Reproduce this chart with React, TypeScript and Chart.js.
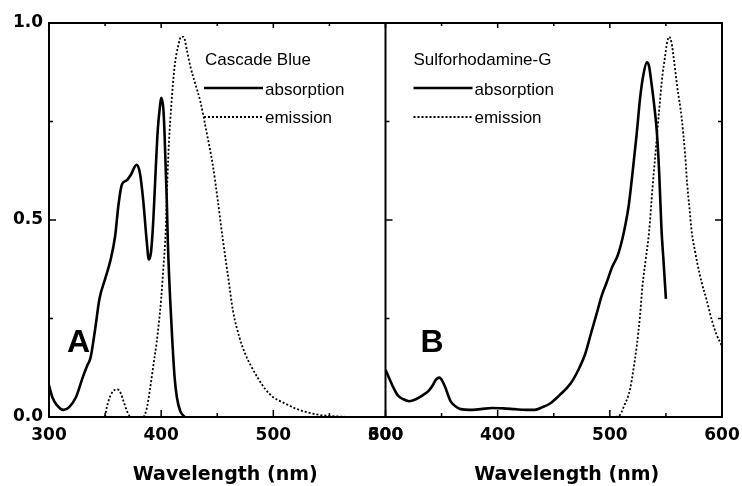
import React, { useEffect, useRef } from "react";
import { Chart, registerables } from "chart.js";

Chart.register(...registerables);

const FONT = '"Liberation Sans", Arial, Helvetica, sans-serif';
const BOLD_FONT = '"DejaVu Sans", "Liberation Sans", Arial, sans-serif';

// Panel A: Cascade Blue
const absAX = [300, 303, 307, 313, 318, 324, 330, 334, 337, 341, 345, 350, 355, 359, 362, 365, 369, 373, 378, 381, 384, 387, 389, 391, 393, 395, 397, 399, 400, 402, 403, 405, 406, 408, 410, 412, 414, 417, 421];
const absAY = [0.08, 0.05, 0.03, 0.018, 0.025, 0.05, 0.1, 0.13, 0.15, 0.22, 0.3, 0.35, 0.4, 0.46, 0.54, 0.59, 0.6, 0.615, 0.64, 0.62, 0.55, 0.45, 0.4, 0.42, 0.5, 0.62, 0.73, 0.79, 0.81, 0.78, 0.72, 0.55, 0.44, 0.3, 0.19, 0.1, 0.05, 0.015, 0];
const emAX = [350, 350.5, 353, 357, 361, 364, 367, 370, 373, 384, 387, 390, 393, 396, 398, 400, 402, 404, 405.5, 407, 409, 412, 415, 418, 420, 423, 426, 431, 435, 440, 446, 450, 455, 460, 464, 470, 475, 480, 486, 493, 500, 510, 521, 530, 542, 555, 567];
const emAY = [0, 0.01, 0.04, 0.065, 0.07, 0.06, 0.035, 0.012, 0, 0, 0.02, 0.07, 0.13, 0.19, 0.24, 0.3, 0.38, 0.47, 0.6, 0.7, 0.79, 0.89, 0.94, 0.965, 0.965, 0.93, 0.89, 0.84, 0.8, 0.73, 0.64, 0.56, 0.45, 0.35, 0.27, 0.2, 0.16, 0.13, 0.1, 0.07, 0.05, 0.035, 0.02, 0.012, 0.005, 0.002, 0];

// Panel B: Sulforhodamine-G
const absBX = [300, 303, 307, 311, 316, 321, 327, 333, 338, 342, 345, 348, 351, 354, 358, 362, 367, 375, 385, 395, 405, 415, 425, 433, 440, 447, 455, 465, 472, 478, 483, 488, 493, 497, 502, 507, 511, 514, 517, 521, 524, 527, 530, 533, 535, 537, 540, 542, 544, 546, 548, 550];
const absBY = [0.12, 0.1, 0.075, 0.055, 0.045, 0.04, 0.045, 0.055, 0.065, 0.08, 0.095, 0.1, 0.09, 0.07, 0.04, 0.028, 0.02, 0.018, 0.02, 0.023, 0.022, 0.02, 0.018, 0.018, 0.025, 0.035, 0.055, 0.085, 0.12, 0.16, 0.21, 0.26, 0.31, 0.34, 0.38, 0.41, 0.45, 0.49, 0.54, 0.64, 0.72, 0.81, 0.87, 0.9, 0.89, 0.85, 0.78, 0.72, 0.62, 0.48, 0.39, 0.3];
const emBX = [505, 509, 513, 516, 518, 521, 524, 527, 529, 532, 535, 538, 541, 544, 547, 549, 551, 553, 555, 557, 560, 564, 567, 569, 571, 573, 576, 578, 582, 586, 591, 595, 600];
const emBY = [0, 0.005, 0.03, 0.05, 0.07, 0.12, 0.18, 0.26, 0.33, 0.4, 0.47, 0.58, 0.68, 0.78, 0.87, 0.91, 0.95, 0.965, 0.95, 0.91, 0.84, 0.76, 0.67, 0.59, 0.53, 0.47, 0.42, 0.39, 0.34, 0.3, 0.245, 0.21, 0.18];

const xMin = 300;
const xMax = 600;
const xStep = 50;
const yStep = 0.25;
const axisTitle = "Wavelength (nm)";
const panelNames = ["Cascade Blue", "Sulforhodamine-G"];
const panelLetters = ["A", "B"];
const seriesNames = ["absorption", "emission"];

const pts = (xs: number[], ys: number[]) => xs.map((x, i) => ({ x, y: ys[i] }));

const framePlugin = {
  id: "frame",
  afterDraw(chart: any) {
    const { ctx, chartArea } = chart;
    const { left, right, top, bottom } = chartArea;
    const xA = chart.scales.xA;
    const xB = chart.scales.xB;
    const y = chart.scales.y;
    ctx.save();
    ctx.strokeStyle = "#000";
    ctx.lineWidth = 2;
    ctx.strokeRect(left, top, right - left, bottom - top);
    ctx.beginPath();
    ctx.moveTo(xB.left, top);
    ctx.lineTo(xB.left, bottom);
    ctx.stroke();

    ctx.lineWidth = 1.5;
    ctx.beginPath();
    [xA, xB].forEach((s: any) => {
      s.ticks.forEach((t: any) => {
        const px = s.getPixelForValue(t.value);
        const major = t.value % 100 === 0;
        const len = major ? 7 : 4;
        ctx.moveTo(px, bottom);
        ctx.lineTo(px, bottom - len);
        ctx.moveTo(px, top);
        ctx.lineTo(px, top + (major ? 5 : 3));
      });
    });
    y.ticks.forEach((t: any) => {
      const py = y.getPixelForValue(t.value);
      const major = Math.abs((t.value * 2) % 1) < 1e-9;
      const len = major ? 7 : 4;
      ctx.moveTo(left, py);
      ctx.lineTo(left + len, py);
      ctx.moveTo(xB.left, py);
      ctx.lineTo(xB.left + len, py);
      ctx.moveTo(right, py);
      ctx.lineTo(right - len, py);
    });
    ctx.stroke();

    // legends
    const legends = [
      { x0: xA.left + 155, title: panelNames[0] },
      { x0: xB.left + 28, title: panelNames[1] },
    ];
    ctx.fillStyle = "#000";
    ctx.textBaseline = "middle";
    ctx.textAlign = "left";
    ctx.font = `17px ${FONT}`;
    legends.forEach((lg, i) => {
      const tx = i === 0 ? lg.x0 + 1 : lg.x0;
      ctx.fillText(lg.title, tx, 60);
      ctx.lineWidth = 2.4;
      ctx.setLineDash([]);
      ctx.beginPath();
      ctx.moveTo(lg.x0, 88);
      ctx.lineTo(lg.x0 + 59, 88);
      ctx.stroke();
      ctx.lineWidth = 1.8;
      ctx.setLineDash([2, 2]);
      ctx.beginPath();
      ctx.moveTo(lg.x0, 117);
      ctx.lineTo(lg.x0 + 59, 117);
      ctx.stroke();
      ctx.setLineDash([]);
      ctx.fillText(seriesNames[0], lg.x0 + 61, 90);
      ctx.fillText(seriesNames[1], lg.x0 + 61, 118);
    });

    ctx.font = `bold 32px ${FONT}`;
    ctx.fillText(panelLetters[0], xA.left + 18, 343);
    ctx.fillText(panelLetters[1], xB.left + 35, 343);

    // axis titles
    ctx.font = `bold 19px ${BOLD_FONT}`;
    ctx.textAlign = "center";
    ctx.fillText(axisTitle, (xA.left + xA.right) / 2 + 8, 475);
    ctx.fillText(axisTitle, (xB.left + xB.right) / 2 + 13, 475);
    ctx.restore();
  },
};

const xScale = (weight: number) => ({
  type: "linear" as const,
  position: "bottom" as const,
  stack: "x",
  stackWeight: weight,
  min: xMin,
  max: xMax,
  ticks: {
    stepSize: xStep,
    autoSkip: false,
    maxRotation: 0,
    padding: 8,
    color: "#000",
    font: { family: BOLD_FONT, size: 17, weight: "bold" as const },
    callback: (v: any) => (Number(v) % 100 === 0 ? String(v) : ""),
  },
  grid: { display: false, drawTicks: false },
  border: { display: false },
  title: { display: false },
  afterFit: (s: any) => {
    s.height = 69;
    s.paddingLeft = 0;
    s.paddingRight = 0;
  },
});

export default function App() {
  const ref = useRef<HTMLCanvasElement | null>(null);
  useEffect(() => {
    if (!ref.current) return;
    const solid = { borderColor: "#000", borderWidth: 2.6, pointRadius: 0, fill: false, cubicInterpolationMode: "monotone" as const };
    const dotted = { borderColor: "#000", borderWidth: 1.8, borderDash: [2, 2], pointRadius: 0, fill: false, cubicInterpolationMode: "monotone" as const };
    const chart = new Chart(ref.current, {
      type: "line",
      data: {
        datasets: [
          { label: "Cascade Blue absorption", data: pts(absAX, absAY), xAxisID: "xA", yAxisID: "y", ...solid },
          { label: "Cascade Blue emission", data: pts(emAX, emAY), xAxisID: "xA", yAxisID: "y", ...dotted },
          { label: "Sulforhodamine-G absorption", data: pts(absBX, absBY), xAxisID: "xB", yAxisID: "y", ...solid },
          { label: "Sulforhodamine-G emission", data: pts(emBX, emBY), xAxisID: "xB", yAxisID: "y", ...dotted },
        ],
      },
      options: {
        animation: false,
        responsive: false,
        maintainAspectRatio: false,
        layout: { padding: { top: 23, right: 20, left: 0, bottom: 0 } },
        plugins: { legend: { display: false }, tooltip: { enabled: false } },
        scales: {
          xA: xScale(1),
          xB: xScale(1),
          y: {
            type: "linear",
            position: "left",
            min: 0,
            max: 1,
            ticks: {
              stepSize: yStep,
              padding: 6,
              color: "#000",
              font: { family: BOLD_FONT, size: 17, weight: "bold" },
              callback: (v: any) => (Math.abs((Number(v) * 2) % 1) < 1e-9 ? Number(v).toFixed(1) : ""),
            },
            grid: { display: false, drawTicks: false },
            border: { display: false },
            afterFit: (s: any) => {
              s.width = 49;
              s.paddingTop = 0;
              s.paddingBottom = 0;
            },
          },
        },
      } as any,
      plugins: [framePlugin],
    });
    return () => chart.destroy();
  }, []);
  return (
    <div style={{ position: "absolute", left: 0, top: 0, width: 742, height: 486, background: "#fff" }}>
      <canvas ref={ref} width={742} height={486} style={{ width: 742, height: 486 }} />
    </div>
  );
}
